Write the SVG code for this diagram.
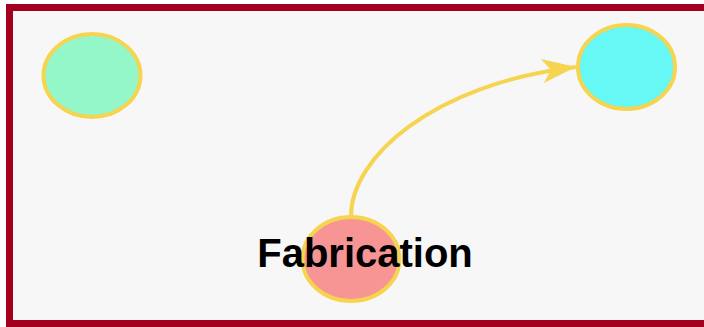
<svg xmlns="http://www.w3.org/2000/svg" width="704" height="327" viewBox="0 0 704 327">
<style>
.node{stroke:#f7d44f;stroke-width:4}
.edge{fill:none;stroke:#f7d44f;stroke-width:4}
.label{font-family:"Liberation Sans",Arial,sans-serif;font-weight:bold;font-size:40px;fill:#000}
</style>
<defs>
<marker id="arr" markerUnits="userSpaceOnUse" markerWidth="40" markerHeight="30" refX="34" refY="12" orient="auto">
<path d="M0,0 L34,12 L0,24 L9,12 Z" fill="#f7d44f"/>
</marker>
</defs>
<rect x="0" y="0" width="704" height="327" fill="#ffffff"/>
<rect x="9.5" y="7.5" width="710" height="316" fill="#f7f7f7" stroke="#a30020" stroke-width="7"/>
<g id="connectors">
<path class="edge" d="M351,216 C351,158 432,84 576,67" marker-end="url(#arr)"/>
</g>
<g id="node-green">
<ellipse class="node" cx="92" cy="75.5" rx="48.5" ry="41.5" fill="#93f7c9"/>
</g>
<g id="node-cyan">
<ellipse class="node" cx="626.5" cy="67" rx="48.5" ry="42" fill="#66f8f4"/>
</g>
<g id="node-fabrication">
<ellipse class="node" cx="351" cy="259" rx="48.5" ry="42" fill="#f79595"/>
<text class="label" x="365" y="267" text-anchor="middle">Fabrication</text>
</g>
</svg>
